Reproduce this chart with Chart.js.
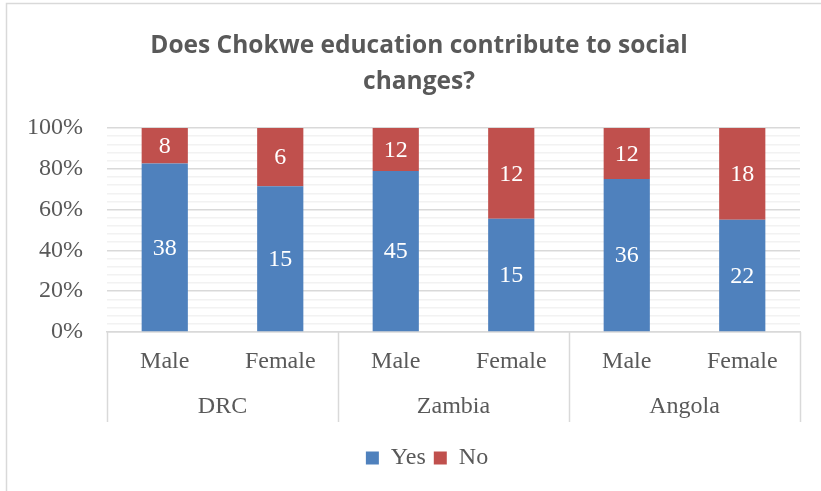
<!DOCTYPE html>
<html>
<head>
<meta charset="utf-8">
<script src="https://cdn.jsdelivr.net/npm/chart.js@4"></script>
<style>
  html, body { margin: 0; padding: 0; background: #fff; }
  #wrap { width: 821px; height: 491px; position: relative; }
</style>
</head>
<body>
<div id="wrap"><canvas id="chart"></canvas></div>
<script>
  const TITLE = ["Does Chokwe education contribute to social", "changes?"];
  const categories = ["Male", "Female", "Male", "Female", "Male", "Female"];
  const groups = ["DRC", "Zambia", "Angola"];
  const yesCounts = [38, 15, 45, 15, 36, 22];
  const noCounts = [8, 6, 12, 12, 12, 18];
  const seriesNames = ["Yes", "No"];

  const BLUE = "#4f81bd";
  const RED = "#c0504d";
  const TEXT = "#595959";
  const SERIF = "'Liberation Serif', 'Times New Roman', serif";

  const totals = yesCounts.map((y, i) => y + noCounts[i]);
  const yesPct = yesCounts.map((y, i) => y / totals[i] * 100);
  const noPct = noCounts.map((n, i) => n / totals[i] * 100);

  // white count labels in the middle of every segment
  const segmentLabels = {
    id: "segmentLabels",
    afterDatasetsDraw(chart) {
      const ctx = chart.ctx;
      ctx.save();
      ctx.fillStyle = "#fff";
      ctx.font = "24px " + SERIF;
      ctx.textAlign = "center";
      ctx.textBaseline = "middle";
      chart.data.datasets.forEach((ds, di) => {
        chart.getDatasetMeta(di).data.forEach((bar, i) => {
          ctx.fillText(String(ds.counts[i]), bar.x, (bar.y + bar.base) / 2 + 1);
        });
      });
      ctx.restore();
    }
  };

  // title (centred on the uncropped chart), country level of the axis, outer frame
  const decorations = {
    id: "decorations",
    afterLayout(chart) {
      // the original is cropped on the right, so its legend sits right of our centre
      const lg = chart.legend;
      lg.left += 27; lg.right += 27;
      lg.top += 2; lg.bottom += 2;
    },
    beforeDraw(chart) {
      const ctx = chart.ctx;
      ctx.save();
      ctx.strokeStyle = "#d9d9d9";
      ctx.lineWidth = 1.5;
      ctx.strokeRect(6.5, 3.5, 900, 600);
      ctx.restore();
    },
    afterDraw(chart) {
      const ctx = chart.ctx;
      const x = chart.scales.x;
      const area = chart.chartArea;
      const top = area.bottom;
      const bottom = area.bottom + 90;
      const per = categories.length / groups.length;
      ctx.save();

      ctx.fillStyle = TEXT;
      ctx.textAlign = "center";
      ctx.textBaseline = "middle";
      ctx.font = "bold 24.5px 'Open Sans', sans-serif";
      TITLE.forEach((line, i) => ctx.fillText(line, 419, 46 + i * 36));

      ctx.strokeStyle = "#d9d9d9";
      ctx.lineWidth = 1.5;
      ctx.font = "24px " + SERIF;
      for (let g = 0; g <= groups.length; g++) {
        let px;
        if (g === 0) px = area.left;
        else if (g === groups.length) px = area.right;
        else px = (x.getPixelForValue(g * per - 1) + x.getPixelForValue(g * per)) / 2;
        ctx.beginPath();
        ctx.moveTo(Math.round(px) + 0.5, top);
        ctx.lineTo(Math.round(px) + 0.5, bottom);
        ctx.stroke();
      }
      groups.forEach((name, g) => {
        const cx = (x.getPixelForValue(g * per) + x.getPixelForValue(g * per + per - 1)) / 2;
        ctx.fillText(name, cx, area.bottom + 75);
      });
      ctx.restore();
    }
  };

  new Chart(document.getElementById("chart"), {
    type: "bar",
    data: {
      labels: categories,
      datasets: [
        { label: seriesNames[0], data: yesPct, counts: yesCounts, backgroundColor: BLUE },
        { label: seriesNames[1], data: noPct, counts: noCounts, backgroundColor: RED }
      ]
    },
    options: {
      responsive: true,
      maintainAspectRatio: false,
      animation: false,
      layout: { padding: { top: 128, right: 21, bottom: 13, left: 0 } },
      datasets: { bar: { barPercentage: 0.4, categoryPercentage: 1 } },
      plugins: {
        title: { display: false },
        legend: {
          position: "bottom",
          labels: {
            color: TEXT,
            font: { family: SERIF, size: 24 },
            boxWidth: 13,
            boxHeight: 13,
            padding: 8
          }
        },
        tooltip: { enabled: false }
      },
      scales: {
        x: {
          stacked: true,
          grid: { display: false, drawTicks: false },
          border: { display: true, color: "#d9d9d9", width: 1.5 },
          ticks: { color: TEXT, font: { family: SERIF, size: 24 }, padding: 15, maxRotation: 0 },
          afterFit: scale => { scale.height = 104; }
        },
        y: {
          stacked: true,
          min: 0,
          max: 100,
          grid: {
            drawTicks: false,
            color: ctx => (ctx.tick && ctx.tick.value % 20 === 0) ? "#d9d9d9" : "#f2f2f2",
            lineWidth: 1.5
          },
          border: { display: false },
          ticks: {
            stepSize: 4,
            autoSkip: false,
            color: TEXT,
            font: { family: SERIF, size: 24 },
            padding: 24,
            callback: v => (v % 20 === 0 ? v + "%" : "")
          },
          afterFit: scale => { scale.width = 107; }
        }
      }
    },
    plugins: [segmentLabels, decorations]
  });
</script>
</body>
</html>
